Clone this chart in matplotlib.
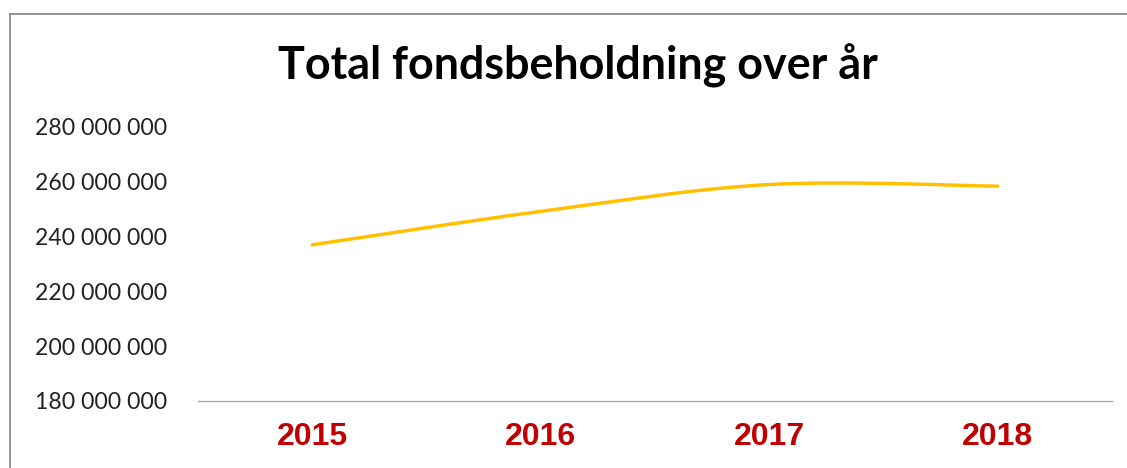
import matplotlib
matplotlib.use("Agg")
import matplotlib.pyplot as plt
from matplotlib.path import Path
import matplotlib.patches as patches
from matplotlib.lines import Line2D
from matplotlib.ticker import FuncFormatter

# data
years = ["2015", "2016", "2017", "2018"]
holdings = [237_000_000, 249_200_000, 259_000_000, 258_400_000]
y_ticks = [180_000_000, 200_000_000, 220_000_000, 240_000_000, 260_000_000, 280_000_000]

W, H = 1127, 468
fig = plt.figure(figsize=(W / 100, H / 100), dpi=100)
ax = fig.add_axes([198 / W, 1 - 401 / H, (1112 - 198) / W, (401 - 127) / H])

# smoothed line like excel: bezier through the points
xs = list(range(len(holdings)))
pts = list(zip(xs, holdings))
verts = [pts[0]]
codes = [Path.MOVETO]
for i in range(len(pts) - 1):
    p0 = pts[i - 1] if i > 0 else pts[i]
    p1 = pts[i]
    p2 = pts[i + 1]
    p3 = pts[i + 2] if i + 2 < len(pts) else pts[i + 1]
    c1 = (p1[0] + (p2[0] - p0[0]) / 6, p1[1] + (p2[1] - p0[1]) / 6)
    c2 = (p2[0] - (p3[0] - p1[0]) / 6, p2[1] - (p3[1] - p1[1]) / 6)
    verts += [c1, c2, p2]
    codes += [Path.CURVE4] * 3
ax.add_patch(patches.PathPatch(Path(verts, codes), fill=False, edgecolor="#FFC000",
                               linewidth=2.5, capstyle="round"))

ax.set_xlim(-0.5, len(years) - 0.5)
ax.set_ylim(180_000_000, 280_000_000)
ax.set_xticks(xs)
ax.set_xticklabels(years, family="Liberation Sans", fontweight="bold",
                   fontsize=23, color="#C00000")
ax.set_yticks(y_ticks)
ax.yaxis.set_major_formatter(FuncFormatter(lambda v, p: f"{v:,.0f}".replace(",", " ")))
for lbl in ax.get_yticklabels():
    lbl.set_family("Lato")
    lbl.set_fontsize(16.6)
    lbl.set_color("#222222")
ax.tick_params(axis="both", length=0)
ax.tick_params(axis="y", pad=22.5)
ax.tick_params(axis="x", pad=15)
for s in ["top", "right", "left"]:
    ax.spines[s].set_visible(False)
ax.spines["bottom"].set_color("#a6a6a6")
ax.spines["bottom"].set_linewidth(1.0)

fig.text(578 / W, 1 - 66 / H, "Total fondsbeholdning over år", family="Lato",
         fontweight="bold", fontsize=32.3, ha="center", va="center", color="black")

# chart frame (cropped at right and bottom)
fig.add_artist(Line2D([10 / W, 1], [1 - 14 / H, 1 - 14 / H], transform=fig.transFigure,
                      color="#8c8c8c", linewidth=1.3))
fig.add_artist(Line2D([10 / W, 10 / W], [0, 1 - 14 / H], transform=fig.transFigure,
                      color="#8c8c8c", linewidth=1.3))

plt.savefig("out.png", dpi=100)
